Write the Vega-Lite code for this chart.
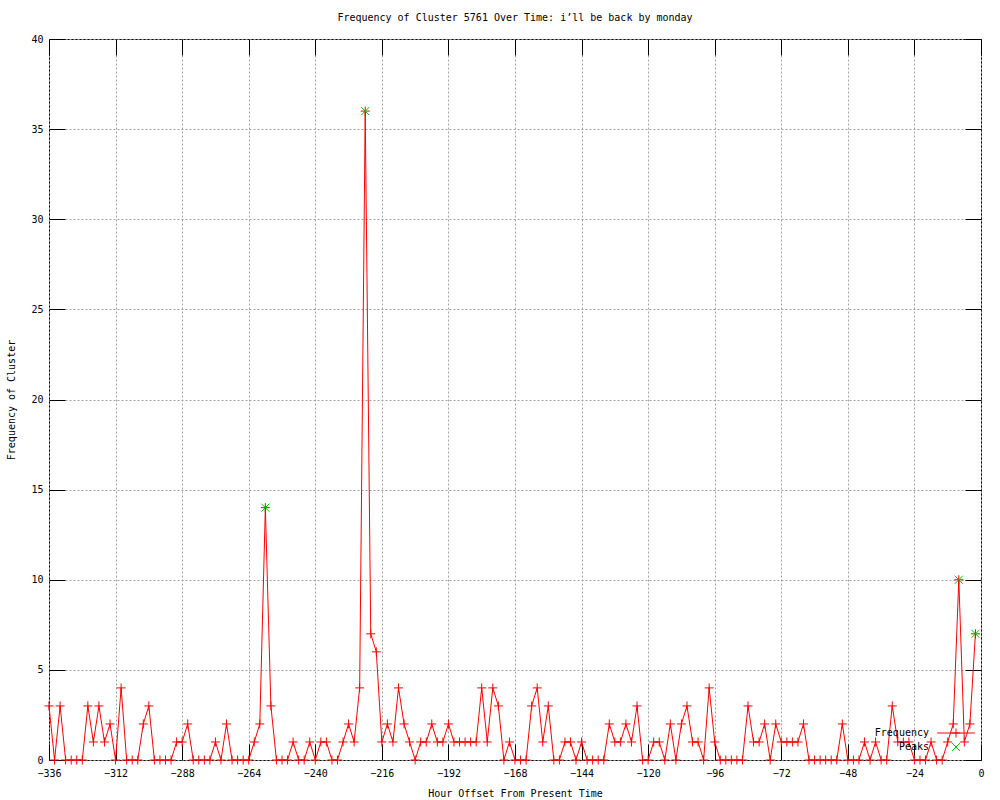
{
  "$schema": "https://vega.github.io/schema/vega-lite/v6.json",
  "width": 932,
  "height": 721,
  "autosize": {"type": "none"},
  "padding": {"left": 49, "top": 39, "right": 19, "bottom": 40},
  "background": "white",
  "title": {"text": "Frequency of Cluster 5761 Over Time: i’ll be back by monday", "font": "DejaVu Sans Mono", "fontSize": 10, "fontWeight": "normal", "color": "black", "offset": 11, "anchor": "middle"},
  "datasets": {
    "freq": [
      {"hour": -336, "frequency": 3, "series": "Frequency"},
      {"hour": -334, "frequency": 0, "series": "Frequency"},
      {"hour": -332, "frequency": 3, "series": "Frequency"},
      {"hour": -330, "frequency": 0, "series": "Frequency"},
      {"hour": -328, "frequency": 0, "series": "Frequency"},
      {"hour": -326, "frequency": 0, "series": "Frequency"},
      {"hour": -324, "frequency": 0, "series": "Frequency"},
      {"hour": -322, "frequency": 3, "series": "Frequency"},
      {"hour": -320, "frequency": 1, "series": "Frequency"},
      {"hour": -318, "frequency": 3, "series": "Frequency"},
      {"hour": -316, "frequency": 1, "series": "Frequency"},
      {"hour": -314, "frequency": 2, "series": "Frequency"},
      {"hour": -312, "frequency": 0, "series": "Frequency"},
      {"hour": -310, "frequency": 4, "series": "Frequency"},
      {"hour": -308, "frequency": 0, "series": "Frequency"},
      {"hour": -306, "frequency": 0, "series": "Frequency"},
      {"hour": -304, "frequency": 0, "series": "Frequency"},
      {"hour": -302, "frequency": 2, "series": "Frequency"},
      {"hour": -300, "frequency": 3, "series": "Frequency"},
      {"hour": -298, "frequency": 0, "series": "Frequency"},
      {"hour": -296, "frequency": 0, "series": "Frequency"},
      {"hour": -294, "frequency": 0, "series": "Frequency"},
      {"hour": -292, "frequency": 0, "series": "Frequency"},
      {"hour": -290, "frequency": 1, "series": "Frequency"},
      {"hour": -288, "frequency": 1, "series": "Frequency"},
      {"hour": -286, "frequency": 2, "series": "Frequency"},
      {"hour": -284, "frequency": 0, "series": "Frequency"},
      {"hour": -282, "frequency": 0, "series": "Frequency"},
      {"hour": -280, "frequency": 0, "series": "Frequency"},
      {"hour": -278, "frequency": 0, "series": "Frequency"},
      {"hour": -276, "frequency": 1, "series": "Frequency"},
      {"hour": -274, "frequency": 0, "series": "Frequency"},
      {"hour": -272, "frequency": 2, "series": "Frequency"},
      {"hour": -270, "frequency": 0, "series": "Frequency"},
      {"hour": -268, "frequency": 0, "series": "Frequency"},
      {"hour": -266, "frequency": 0, "series": "Frequency"},
      {"hour": -264, "frequency": 0, "series": "Frequency"},
      {"hour": -262, "frequency": 1, "series": "Frequency"},
      {"hour": -260, "frequency": 2, "series": "Frequency"},
      {"hour": -258, "frequency": 14, "series": "Frequency"},
      {"hour": -256, "frequency": 3, "series": "Frequency"},
      {"hour": -254, "frequency": 0, "series": "Frequency"},
      {"hour": -252, "frequency": 0, "series": "Frequency"},
      {"hour": -250, "frequency": 0, "series": "Frequency"},
      {"hour": -248, "frequency": 1, "series": "Frequency"},
      {"hour": -246, "frequency": 0, "series": "Frequency"},
      {"hour": -244, "frequency": 0, "series": "Frequency"},
      {"hour": -242, "frequency": 1, "series": "Frequency"},
      {"hour": -240, "frequency": 0, "series": "Frequency"},
      {"hour": -238, "frequency": 1, "series": "Frequency"},
      {"hour": -236, "frequency": 1, "series": "Frequency"},
      {"hour": -234, "frequency": 0, "series": "Frequency"},
      {"hour": -232, "frequency": 0, "series": "Frequency"},
      {"hour": -230, "frequency": 1, "series": "Frequency"},
      {"hour": -228, "frequency": 2, "series": "Frequency"},
      {"hour": -226, "frequency": 1, "series": "Frequency"},
      {"hour": -224, "frequency": 4, "series": "Frequency"},
      {"hour": -222, "frequency": 36, "series": "Frequency"},
      {"hour": -220, "frequency": 7, "series": "Frequency"},
      {"hour": -218, "frequency": 6, "series": "Frequency"},
      {"hour": -216, "frequency": 1, "series": "Frequency"},
      {"hour": -214, "frequency": 2, "series": "Frequency"},
      {"hour": -212, "frequency": 1, "series": "Frequency"},
      {"hour": -210, "frequency": 4, "series": "Frequency"},
      {"hour": -208, "frequency": 2, "series": "Frequency"},
      {"hour": -206, "frequency": 1, "series": "Frequency"},
      {"hour": -204, "frequency": 0, "series": "Frequency"},
      {"hour": -202, "frequency": 1, "series": "Frequency"},
      {"hour": -200, "frequency": 1, "series": "Frequency"},
      {"hour": -198, "frequency": 2, "series": "Frequency"},
      {"hour": -196, "frequency": 1, "series": "Frequency"},
      {"hour": -194, "frequency": 1, "series": "Frequency"},
      {"hour": -192, "frequency": 2, "series": "Frequency"},
      {"hour": -190, "frequency": 1, "series": "Frequency"},
      {"hour": -188, "frequency": 1, "series": "Frequency"},
      {"hour": -186, "frequency": 1, "series": "Frequency"},
      {"hour": -184, "frequency": 1, "series": "Frequency"},
      {"hour": -182, "frequency": 1, "series": "Frequency"},
      {"hour": -180, "frequency": 4, "series": "Frequency"},
      {"hour": -178, "frequency": 1, "series": "Frequency"},
      {"hour": -176, "frequency": 4, "series": "Frequency"},
      {"hour": -174, "frequency": 3, "series": "Frequency"},
      {"hour": -172, "frequency": 0, "series": "Frequency"},
      {"hour": -170, "frequency": 1, "series": "Frequency"},
      {"hour": -168, "frequency": 0, "series": "Frequency"},
      {"hour": -166, "frequency": 0, "series": "Frequency"},
      {"hour": -164, "frequency": 0, "series": "Frequency"},
      {"hour": -162, "frequency": 3, "series": "Frequency"},
      {"hour": -160, "frequency": 4, "series": "Frequency"},
      {"hour": -158, "frequency": 1, "series": "Frequency"},
      {"hour": -156, "frequency": 3, "series": "Frequency"},
      {"hour": -154, "frequency": 0, "series": "Frequency"},
      {"hour": -152, "frequency": 0, "series": "Frequency"},
      {"hour": -150, "frequency": 1, "series": "Frequency"},
      {"hour": -148, "frequency": 1, "series": "Frequency"},
      {"hour": -146, "frequency": 0, "series": "Frequency"},
      {"hour": -144, "frequency": 1, "series": "Frequency"},
      {"hour": -142, "frequency": 0, "series": "Frequency"},
      {"hour": -140, "frequency": 0, "series": "Frequency"},
      {"hour": -138, "frequency": 0, "series": "Frequency"},
      {"hour": -136, "frequency": 0, "series": "Frequency"},
      {"hour": -134, "frequency": 2, "series": "Frequency"},
      {"hour": -132, "frequency": 1, "series": "Frequency"},
      {"hour": -130, "frequency": 1, "series": "Frequency"},
      {"hour": -128, "frequency": 2, "series": "Frequency"},
      {"hour": -126, "frequency": 1, "series": "Frequency"},
      {"hour": -124, "frequency": 3, "series": "Frequency"},
      {"hour": -122, "frequency": 0, "series": "Frequency"},
      {"hour": -120, "frequency": 0, "series": "Frequency"},
      {"hour": -118, "frequency": 1, "series": "Frequency"},
      {"hour": -116, "frequency": 1, "series": "Frequency"},
      {"hour": -114, "frequency": 0, "series": "Frequency"},
      {"hour": -112, "frequency": 2, "series": "Frequency"},
      {"hour": -110, "frequency": 0, "series": "Frequency"},
      {"hour": -108, "frequency": 2, "series": "Frequency"},
      {"hour": -106, "frequency": 3, "series": "Frequency"},
      {"hour": -104, "frequency": 1, "series": "Frequency"},
      {"hour": -102, "frequency": 1, "series": "Frequency"},
      {"hour": -100, "frequency": 0, "series": "Frequency"},
      {"hour": -98, "frequency": 4, "series": "Frequency"},
      {"hour": -96, "frequency": 1, "series": "Frequency"},
      {"hour": -94, "frequency": 0, "series": "Frequency"},
      {"hour": -92, "frequency": 0, "series": "Frequency"},
      {"hour": -90, "frequency": 0, "series": "Frequency"},
      {"hour": -88, "frequency": 0, "series": "Frequency"},
      {"hour": -86, "frequency": 0, "series": "Frequency"},
      {"hour": -84, "frequency": 3, "series": "Frequency"},
      {"hour": -82, "frequency": 1, "series": "Frequency"},
      {"hour": -80, "frequency": 1, "series": "Frequency"},
      {"hour": -78, "frequency": 2, "series": "Frequency"},
      {"hour": -76, "frequency": 0, "series": "Frequency"},
      {"hour": -74, "frequency": 2, "series": "Frequency"},
      {"hour": -72, "frequency": 1, "series": "Frequency"},
      {"hour": -70, "frequency": 1, "series": "Frequency"},
      {"hour": -68, "frequency": 1, "series": "Frequency"},
      {"hour": -66, "frequency": 1, "series": "Frequency"},
      {"hour": -64, "frequency": 2, "series": "Frequency"},
      {"hour": -62, "frequency": 0, "series": "Frequency"},
      {"hour": -60, "frequency": 0, "series": "Frequency"},
      {"hour": -58, "frequency": 0, "series": "Frequency"},
      {"hour": -56, "frequency": 0, "series": "Frequency"},
      {"hour": -54, "frequency": 0, "series": "Frequency"},
      {"hour": -52, "frequency": 0, "series": "Frequency"},
      {"hour": -50, "frequency": 2, "series": "Frequency"},
      {"hour": -48, "frequency": 0, "series": "Frequency"},
      {"hour": -46, "frequency": 0, "series": "Frequency"},
      {"hour": -44, "frequency": 0, "series": "Frequency"},
      {"hour": -42, "frequency": 1, "series": "Frequency"},
      {"hour": -40, "frequency": 0, "series": "Frequency"},
      {"hour": -38, "frequency": 1, "series": "Frequency"},
      {"hour": -36, "frequency": 0, "series": "Frequency"},
      {"hour": -34, "frequency": 0, "series": "Frequency"},
      {"hour": -32, "frequency": 3, "series": "Frequency"},
      {"hour": -30, "frequency": 1, "series": "Frequency"},
      {"hour": -28, "frequency": 1, "series": "Frequency"},
      {"hour": -26, "frequency": 1, "series": "Frequency"},
      {"hour": -24, "frequency": 0, "series": "Frequency"},
      {"hour": -22, "frequency": 0, "series": "Frequency"},
      {"hour": -20, "frequency": 0, "series": "Frequency"},
      {"hour": -18, "frequency": 1, "series": "Frequency"},
      {"hour": -16, "frequency": 0, "series": "Frequency"},
      {"hour": -14, "frequency": 0, "series": "Frequency"},
      {"hour": -12, "frequency": 1, "series": "Frequency"},
      {"hour": -10, "frequency": 2, "series": "Frequency"},
      {"hour": -8, "frequency": 10, "series": "Frequency"},
      {"hour": -6, "frequency": 1, "series": "Frequency"},
      {"hour": -4, "frequency": 2, "series": "Frequency"},
      {"hour": -2, "frequency": 7, "series": "Frequency"}
    ],
    "peaks": [
      {"hour": -258, "frequency": 14, "series": "Peaks"},
      {"hour": -222, "frequency": 36, "series": "Peaks"},
      {"hour": -8, "frequency": 10, "series": "Peaks"},
      {"hour": -2, "frequency": 7, "series": "Peaks"}
    ]
  },
  "layer": [
    {
      "data": {"name": "freq"},
      "mark": {"type": "line", "strokeWidth": 1, "interpolate": "linear"},
      "encoding": {
        "x": {"field": "hour", "type": "quantitative", "scale": {"domain": [-336, 0], "nice": false, "zero": false},
          "axis": {"values": [-336, -312, -288, -264, -240, -216, -192, -168, -144, -120, -96, -72, -48, -24, 0], "title": "Hour Offset From Present Time", "orient": "bottom"}},
        "y": {"field": "frequency", "type": "quantitative", "scale": {"domain": [0, 40], "nice": false},
          "axis": {"values": [0, 5, 10, 15, 20, 25, 30, 35, 40], "title": "Frequency of Cluster", "orient": "left"}},
        "color": {"field": "series", "type": "nominal",
          "scale": {"domain": ["Frequency", "Peaks"], "range": ["#ff0000", "#00c000"]},
          "legend": {
            "title": null, "orient": "none", "legendX": 900, "legendY": 687,
            "symbolSize": 169, "symbolStrokeWidth": 1, "labelAlign": "right", "labelOffset": -34,
            "labelFont": "DejaVu Sans Mono", "labelFontSize": 10, "labelColor": "black", "rowPadding": 0, "padding": 0,
            "encode": {"symbols": {"update": {
              "shape": {"signal": "datum.value === 'Peaks' ? 'M-0.6,-0.6L0.6,0.6M-0.6,0.6L0.6,-0.6' : 'M-2.9,0H2.9M0,-0.7V0.7M-0.7,0H0.7'"},
              "stroke": {"signal": "datum.value === 'Peaks' ? '#00c000' : '#ff0000'"},
              "fill": {"value": "transparent"},
              "strokeWidth": {"value": 1},
              "opacity": {"value": 1}
            }}}
          }}
      }
    },
    {
      "data": {"name": "freq"},
      "mark": {"type": "point", "shape": "M-1,0H1M0,-1V1", "size": 81, "filled": false, "strokeWidth": 1, "opacity": 1},
      "encoding": {
        "x": {"field": "hour", "type": "quantitative", "axis": null},
        "y": {"field": "frequency", "type": "quantitative", "axis": null},
        "color": {"field": "series", "type": "nominal"}
      }
    },
    {
      "data": {"name": "peaks"},
      "mark": {"type": "point", "shape": "M-1,-1L1,1M-1,1L1,-1", "size": 64, "filled": false, "strokeWidth": 1, "opacity": 1},
      "encoding": {
        "x": {"field": "hour", "type": "quantitative", "axis": null},
        "y": {"field": "frequency", "type": "quantitative", "axis": null},
        "color": {"field": "series", "type": "nominal"}
      }
    },
    {
      "data": {"name": "freq"},
      "mark": {"type": "line", "opacity": 0},
      "encoding": {
        "x": {"field": "hour", "type": "quantitative",
          "axis": {"orient": "top", "values": [-336, -312, -288, -264, -240, -216, -192, -168, -144, -120, -96, -72, -48, -24, 0], "labels": false, "title": null, "grid": false, "domain": false}},
        "y": {"field": "frequency", "type": "quantitative",
          "axis": {"orient": "right", "values": [0, 5, 10, 15, 20, 25, 30, 35, 40], "labels": false, "title": null, "grid": false, "domain": false}}
      }
    }
  ],
  "resolve": {"axis": {"x": "independent", "y": "independent"}},
  "config": {
    "view": {"stroke": "black", "strokeWidth": 1},
    "axis": {
      "domain": false,
      "tickColor": "black", "tickSize": -16, "tickWidth": 1,
      "labelFont": "DejaVu Sans Mono", "labelFontSize": 10, "labelColor": "black",
      "titleFont": "DejaVu Sans Mono", "titleFontSize": 10, "titleFontWeight": "normal", "titleColor": "black",
      "grid": true, "gridColor": "#a0a0a0", "gridDash": [2, 2], "gridWidth": 1, "gridOpacity": 1
    },
    "axisX": {"labelPadding": 24, "titlePadding": 10, "labelFlush": false},
    "axisY": {"labelPadding": 22, "titlePadding": 14, "labelFlush": false}
  }
}
